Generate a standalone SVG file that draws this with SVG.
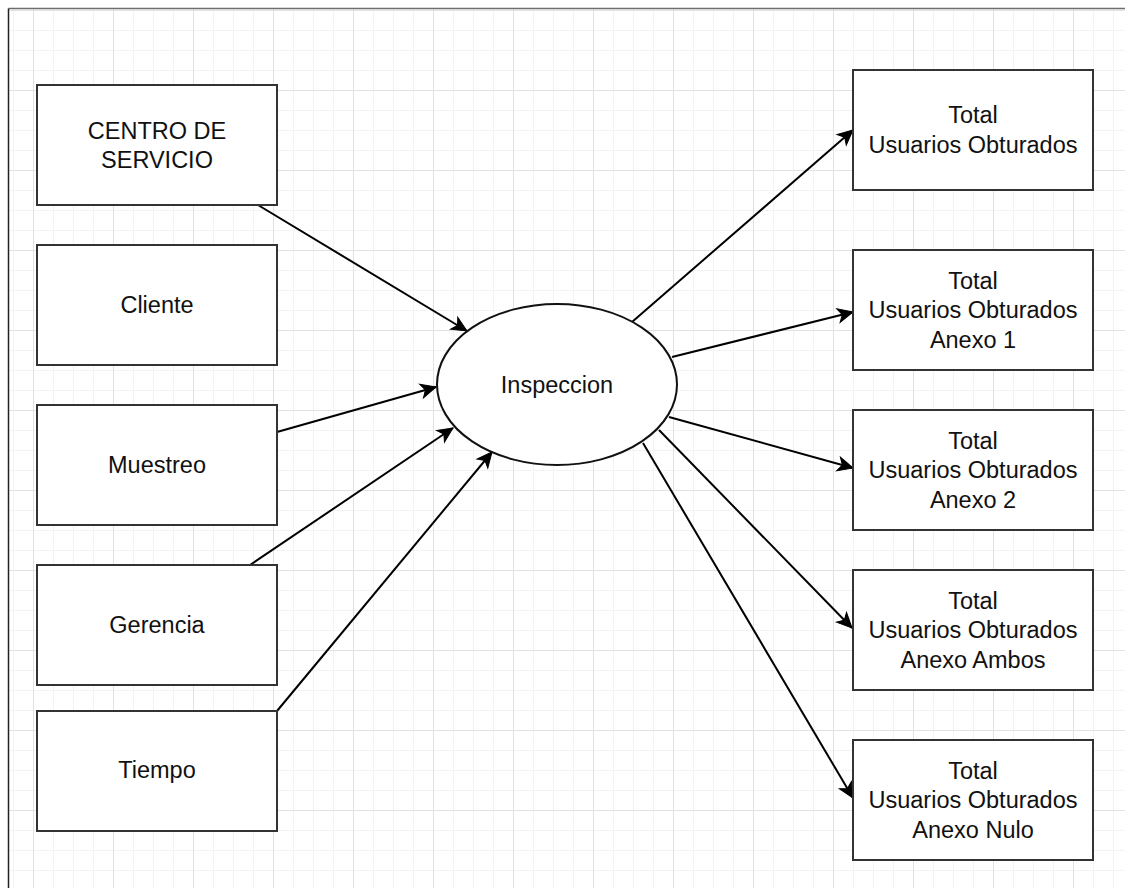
<svg xmlns="http://www.w3.org/2000/svg" width="1125" height="888" viewBox="0 0 1125 888">
  <defs>
    <!-- page grid: minor every 20px, major every 80px -->
    <pattern id="grid" patternUnits="userSpaceOnUse" x="33" y="10" width="80" height="80">
      <path d="M20.5,0V80M40.5,0V80M60.5,0V80M0,20.5H80M0,40.5H80M0,60.5H80" stroke="#f3f3f3" stroke-width="1" fill="none"/>
      <path d="M0.5,0V80M0,0.5H80" stroke="#e2e2e2" stroke-width="1" fill="none"/>
    </pattern>
    <marker id="arrow" markerUnits="userSpaceOnUse" viewBox="-17 -9 18 18" markerWidth="18" markerHeight="18" refX="0" refY="0" orient="auto">
      <path d="M0,0 L-15,-7 L-11,0 L-15,7 Z" fill="#000" stroke="#000" stroke-width="1" stroke-linejoin="miter"/>
    </marker>
    <style>
      .box { fill: #fff; stroke: #333; stroke-width: 2; }
      .ell { fill: #fff; stroke: #111; stroke-width: 2; }
      .lbl { font-family: "Liberation Sans", Arial, Helvetica, sans-serif; font-size: 23.5px; fill: #111; text-anchor: middle; }
      .edge { fill: none; stroke: #000; stroke-width: 2; marker-end: url(#arrow); }
    </style>
  </defs>

  <!-- background and frame -->
  <rect x="0" y="0" width="1125" height="888" fill="#fff"/>
  <rect x="9" y="9" width="1116" height="879" fill="url(#grid)"/>
  <path d="M8.5,8.5H1125" stroke="#6e6e6e" stroke-width="1.5" fill="none"/>
  <path d="M8.5,8.5V888" stroke="#222" stroke-width="1.5" fill="none"/>

  <!-- connectors -->
  <g id="connectors">
    <path class="edge" d="M258,205 L467,331"/>
    <path class="edge" d="M277,432 L436,387"/>
    <path class="edge" d="M250,565 L453,428"/>
    <path class="edge" d="M277,711 L492,452"/>
    <path class="edge" d="M632,322 L853,130"/>
    <path class="edge" d="M672,357 L853,312"/>
    <path class="edge" d="M669,417 L853,468"/>
    <path class="edge" d="M659,430 L852,628"/>
    <path class="edge" d="M643,443 L853,798"/>
  </g>

  <!-- inputs -->
  <g id="centro-servicio">
    <rect class="box" x="37" y="85" width="240" height="120"/>
    <text class="lbl" x="157" y="138.5">CENTRO DE<tspan x="157" dy="29">SERVICIO</tspan></text>
  </g>
  <g id="cliente">
    <rect class="box" x="37" y="245" width="240" height="120"/>
    <text class="lbl" x="157" y="313">Cliente</text>
  </g>
  <g id="muestreo">
    <rect class="box" x="37" y="405" width="240" height="120"/>
    <text class="lbl" x="157" y="473">Muestreo</text>
  </g>
  <g id="gerencia">
    <rect class="box" x="37" y="565" width="240" height="120"/>
    <text class="lbl" x="157" y="633">Gerencia</text>
  </g>
  <g id="tiempo">
    <rect class="box" x="37" y="711" width="240" height="120"/>
    <text class="lbl" x="157" y="778">Tiempo</text>
  </g>

  <!-- central process -->
  <g id="inspeccion">
    <ellipse class="ell" cx="557" cy="384.5" rx="120" ry="80.5"/>
    <text class="lbl" x="557" y="392.5">Inspeccion</text>
  </g>

  <!-- outputs -->
  <g id="total-obturados">
    <rect class="box" x="853" y="70" width="240" height="120"/>
    <text class="lbl" x="973" y="123.3">Total<tspan x="973" dy="29.5">Usuarios Obturados</tspan></text>
  </g>
  <g id="total-anexo-1">
    <rect class="box" x="853" y="250" width="240" height="120"/>
    <text class="lbl" x="973" y="288.5">Total<tspan x="973" dy="29.5">Usuarios Obturados</tspan><tspan x="973" dy="29.5">Anexo 1</tspan></text>
  </g>
  <g id="total-anexo-2">
    <rect class="box" x="853" y="410" width="240" height="120"/>
    <text class="lbl" x="973" y="448.5">Total<tspan x="973" dy="29.5">Usuarios Obturados</tspan><tspan x="973" dy="29.5">Anexo 2</tspan></text>
  </g>
  <g id="total-anexo-ambos">
    <rect class="box" x="853" y="570" width="240" height="120"/>
    <text class="lbl" x="973" y="608.5">Total<tspan x="973" dy="29.5">Usuarios Obturados</tspan><tspan x="973" dy="29.5">Anexo Ambos</tspan></text>
  </g>
  <g id="total-anexo-nulo">
    <rect class="box" x="853" y="740" width="240" height="120"/>
    <text class="lbl" x="973" y="779">Total<tspan x="973" dy="29">Usuarios Obturados</tspan><tspan x="973" dy="29.5">Anexo Nulo</tspan></text>
  </g>
</svg>
